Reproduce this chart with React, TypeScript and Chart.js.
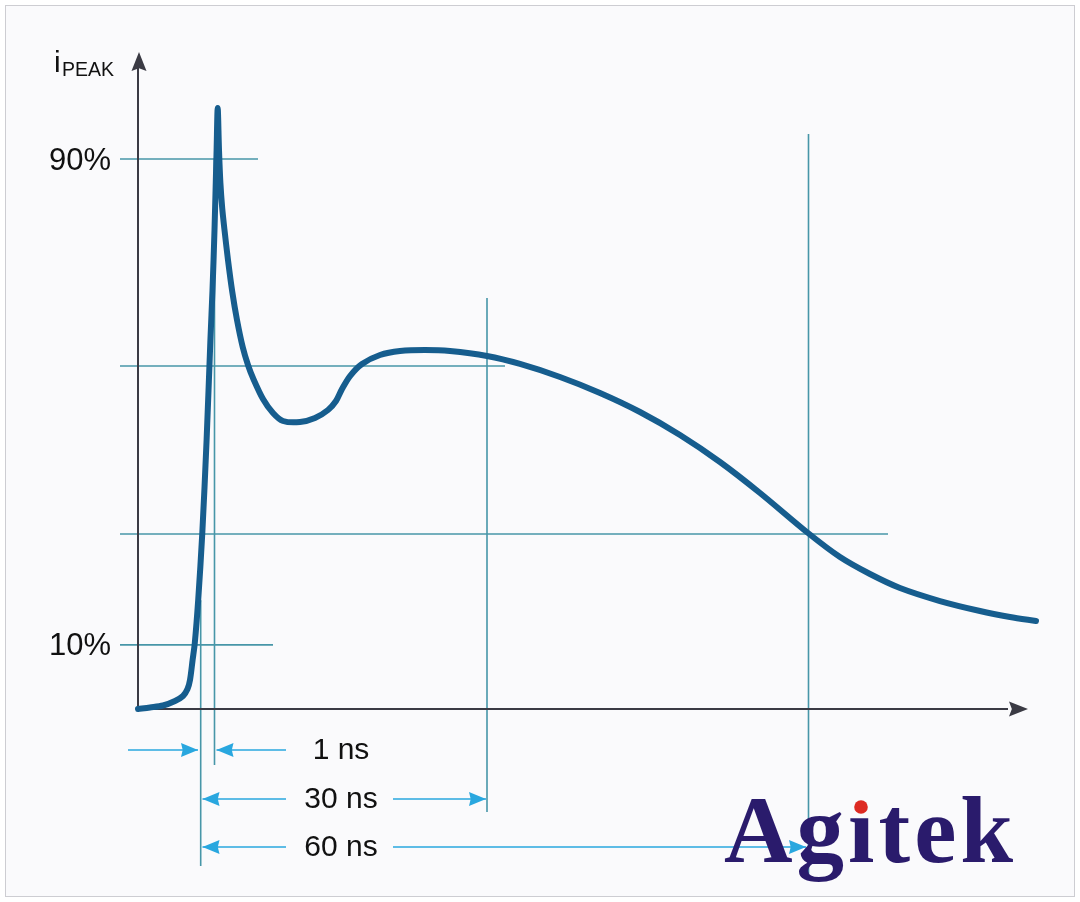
import React, { useEffect, useRef } from "react";
import { Chart, registerables } from "chart.js";

Chart.register(...registerables);

// Waveform (time in ns relative to 10% crossing, current in % of peak level scale)
const curveX = [-6.4, -5.2, -3.9, -2.7, -1.9, -1.45, -1.2, -0.94, -0.72, -0.38, 0.03, 0.46, 0.84, 1.05, 1.25, 1.46, 1.57, 1.7, 1.84, 2.02, 2.25, 2.6, 3.03, 3.5, 4.07, 4.6, 5.1, 6.1, 7.1, 8.1, 9.8, 11.3, 12.6, 13.4, 14.0, 14.8, 16.0, 17.8, 19.8, 22.3, 24.8, 28.5, 31.8, 35.8, 39.8, 43.8, 47.8, 51.8, 55.8, 60.6, 63.8, 66.8, 69.8, 73.8, 77.8, 80.8, 83.4];
const curveY = [0, 0.25, 0.57, 1.31, 2.13, 3.27, 4.75, 8.02, 10.8, 17.84, 28.8, 44.02, 60.38, 68.56, 78.38, 91.47, 98.35, 91.47, 86.07, 81.98, 78.38, 73.47, 68.24, 63.66, 59.24, 56.29, 54.16, 50.73, 48.44, 47.13, 46.96, 47.62, 48.93, 50.4, 52.36, 54.49, 56.46, 57.93, 58.58, 58.75, 58.58, 57.76, 56.46, 54.33, 51.71, 48.6, 44.84, 40.42, 35.35, 28.8, 24.87, 22.09, 19.8, 17.67, 16.04, 15.06, 14.4];

// Horizontal reference levels
const hLevelY = [90, 10.5, 56.13, 28.64];
const hLevelFrom = [-8.2, -8.2, -8.2, -8.2];
const hLevelTo = [5.6, 7.1, 30.3, 68.6];

// Vertical reference times
const vTimeX = [-0.13, 1.25, 28.5, 60.65];
const vTimeTop = [17.8, 90, 67.26, 94.1];
const vTimeBottom = [-25.7, -9.16, -16.85, -27.98];

// Y tick labels
const yTickValues = [90, 10.5];
const yTickLabels = ["90%", "10%"];

// Axes extents
const axisOriginX = -6.4;
const axisEndX = 82.6;
const axisEndY = 107.5;

// Dimension arrows: row level, segment start, arrow tip
const dimRowY = [-6.71, -14.73, -22.58];
const dimLabels = ["1 ns", "30 ns", "60 ns"];
const dimLabelX = [13.9, 13.9, 13.9];
const dimLeftFrom = [-7.4, 8.4, 8.4];
const dimLeftTip = [-0.4, 0.05, 0.05];
const dimRightFrom = [8.4, 19.1, 19.1];
const dimRightTip = [1.45, 28.4, 60.4];

const X_MIN = -20.2, X_MAX = 87.8, Y_MIN = -31.58, Y_MAX = 116.02;

const REF = "#4796a8";
const DIM = "#29a7df";
const AXIS = "#3a3a44";
const CURVE = "#165d8e";

function seg(x0: number, y0: number, x1: number, y1: number, color: string, width: number, order: number) {
  return {
    type: "line" as const,
    data: [{ x: x0, y: y0 }, { x: x1, y: y1 }],
    borderColor: color,
    borderWidth: width,
    pointRadius: 0,
    pointHoverRadius: 0,
    tension: 0,
    clip: false as const,
    order,
  };
}

function head(ctx: CanvasRenderingContext2D, x: number, y: number, dx: number, dy: number, len: number, half: number, color: string, notch = 0.85) {
  const bx = x - dx * len, by = y - dy * len;
  const nx = -dy, ny = dx;
  const notchX = x - dx * len * notch, notchY = y - dy * len * notch;
  ctx.save();
  ctx.fillStyle = color;
  ctx.beginPath();
  ctx.moveTo(x, y);
  ctx.lineTo(bx + nx * half, by + ny * half);
  ctx.lineTo(notchX, notchY);
  ctx.lineTo(bx - nx * half, by - ny * half);
  ctx.closePath();
  ctx.fill();
  ctx.restore();
}

const decorPlugin = {
  id: "decor",
  beforeDraw(chart: any) {
    const ctx: CanvasRenderingContext2D = chart.ctx;
    ctx.save();
    ctx.fillStyle = "#ffffff";
    ctx.fillRect(0, 0, chart.width, chart.height);
    ctx.fillStyle = "#fafafc";
    ctx.fillRect(5, 5, 1070, 892);
    ctx.strokeStyle = "#cdcdd2";
    ctx.lineWidth = 1;
    ctx.strokeRect(5.5, 5.5, 1069, 891);
    ctx.restore();
  },
  afterDatasetsDraw(chart: any) {
    const ctx: CanvasRenderingContext2D = chart.ctx;
    const xs = chart.scales.x, ys = chart.scales.y;
    const px = (v: number) => xs.getPixelForValue(v);
    const py = (v: number) => ys.getPixelForValue(v);

    // axis arrowheads
    head(ctx, px(axisOriginX) + 1, py(axisEndY), 0, -1, 19, 7.5, AXIS);
    head(ctx, px(axisEndX), py(0), 1, 0, 19, 7.5, AXIS);

    // dimension arrowheads
    for (let i = 0; i < dimRowY.length; i++) {
      const y = py(dimRowY[i]);
      const lt = px(dimLeftTip[i]);
      const ldir = dimLeftTip[i] > dimLeftFrom[i] ? 1 : -1;
      head(ctx, lt, y, ldir, 0, 17, 7, DIM, 0.9);
      const rt = px(dimRightTip[i]);
      const rdir = dimRightTip[i] > dimRightFrom[i] ? 1 : -1;
      head(ctx, rt, y, rdir, 0, 17, 7, DIM, 0.9);
    }

    ctx.save();
    ctx.fillStyle = "#111111";
    ctx.textBaseline = "middle";
    // y tick labels
    ctx.font = "31px 'Liberation Sans', Arial, sans-serif";
    ctx.textAlign = "right";
    for (let i = 0; i < yTickValues.length; i++) {
      ctx.fillText(yTickLabels[i], 111, py(yTickValues[i]) + 2);
    }
    // dimension labels
    ctx.font = "30px 'Liberation Sans', Arial, sans-serif";
    ctx.textAlign = "center";
    for (let i = 0; i < dimLabels.length; i++) {
      ctx.fillText(dimLabels[i], px(dimLabelX[i]), py(dimRowY[i]) + 1);
    }
    // axis title i_PEAK
    ctx.textBaseline = "alphabetic";
    ctx.textAlign = "left";
    ctx.font = "30px 'Liberation Sans', Arial, sans-serif";
    ctx.fillText("i", 54, 72);
    ctx.font = "19.5px 'Liberation Sans', Arial, sans-serif";
    ctx.fillText("PEAK", 62, 76);

    // logo
    ctx.font = "bold 95px 'Liberation Serif', 'Times New Roman', serif";
    (ctx as any).letterSpacing = "4px";
    ctx.fillStyle = "#2a1b6c";
    ctx.fillText("Agitek", 724, 862);
    (ctx as any).letterSpacing = "0px";
    ctx.fillStyle = "#fafafc";
    ctx.beginPath();
    ctx.arc(861, 803, 11, 0, Math.PI * 2);
    ctx.fill();
    ctx.fillStyle = "#dd2a22";
    ctx.beginPath();
    ctx.arc(861, 807, 6.8, 0, Math.PI * 2);
    ctx.fill();
    ctx.restore();
  },
};

export default function App() {
  const ref = useRef<HTMLCanvasElement | null>(null);
  useEffect(() => {
    if (!ref.current) return;
    const datasets: any[] = [];
    datasets.push({
      type: "line",
      data: curveX.map((x, i) => ({ x, y: curveY[i] })),
      borderColor: CURVE,
      borderWidth: 6,
      pointRadius: 0,
      pointHoverRadius: 0,
      tension: 0.3,
      borderCapStyle: "round",
      borderJoinStyle: "round",
      clip: false,
      order: 0,
    });
    for (let i = 0; i < hLevelY.length; i++) {
      datasets.push(seg(hLevelFrom[i], hLevelY[i], hLevelTo[i], hLevelY[i], REF, 1.6, 3));
    }
    for (let i = 0; i < vTimeX.length; i++) {
      datasets.push(seg(vTimeX[i], vTimeTop[i], vTimeX[i], vTimeBottom[i], REF, 1.6, 3));
    }
    datasets.push(seg(axisOriginX, 0, axisOriginX, axisEndY - 2, AXIS, 2, 2));
    datasets.push(seg(axisOriginX, 0, axisEndX - 2, 0, AXIS, 2, 2));
    for (let i = 0; i < dimRowY.length; i++) {
      datasets.push(seg(dimLeftFrom[i], dimRowY[i], dimLeftTip[i], dimRowY[i], DIM, 1.6, 2));
      datasets.push(seg(dimRightFrom[i], dimRowY[i], dimRightTip[i], dimRowY[i], DIM, 1.6, 2));
    }
    const chart = new Chart(ref.current, {
      type: "line",
      data: { datasets },
      options: {
        animation: false,
        responsive: false,
        maintainAspectRatio: false,
        layout: { padding: 0 },
        plugins: { legend: { display: false }, tooltip: { enabled: false } },
        events: [],
        scales: {
          x: { type: "linear", min: X_MIN, max: X_MAX, display: false },
          y: { type: "linear", min: Y_MIN, max: Y_MAX, display: false },
        },
      },
      plugins: [decorPlugin],
    });
    return () => chart.destroy();
  }, []);
  return (
    <div style={{ position: "fixed", left: 0, top: 0, width: 1080, height: 902 }}>
      <canvas ref={ref} width={1080} height={902} style={{ width: 1080, height: 902, display: "block" }} />
    </div>
  );
}
